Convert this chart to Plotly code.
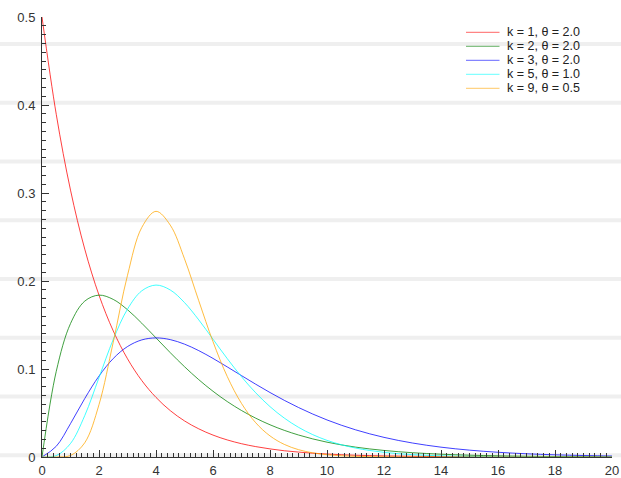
import plotly.graph_objects as go

# x positions (step 0.5 from 0 to 20)
x_vals = [i * 0.5 for i in range(41)]

# k = 1, theta = 2.0
s_k1 = [0.5, 0.3894, 0.3033, 0.2362, 0.1839, 0.1433, 0.1116, 0.0869, 0.0677, 0.0527,
        0.0410, 0.0320, 0.0249, 0.0194, 0.0151, 0.0118, 0.0092, 0.0071, 0.0056, 0.0043,
        0.0034, 0.0026, 0.0020, 0.0016, 0.0012, 0.0010, 0.0008, 0.0006, 0.0005, 0.0004,
        0.0003, 0.0002, 0.0002, 0.0001, 0.0001, 0.0001, 0.0001, 0.0000, 0.0000, 0.0000, 0.0000]
# k = 2, theta = 2.0
s_k2 = [0.0, 0.09735, 0.15163, 0.17714, 0.18394, 0.17907, 0.16735, 0.15205, 0.13534, 0.11857,
        0.10261, 0.08790, 0.07468, 0.06301, 0.05284, 0.04410, 0.03663, 0.03031, 0.02500, 0.02055,
        0.01684, 0.01378, 0.01124, 0.00915, 0.00744, 0.00603, 0.00488, 0.00395, 0.00319, 0.00257,
        0.00207, 0.00167, 0.00134, 0.00108, 0.00086, 0.00069, 0.00055, 0.00044, 0.00036, 0.00028, 0.00023]
# k = 3, theta = 2.0
s_k3 = [0.0, 0.01217, 0.03791, 0.06643, 0.09197, 0.11192, 0.12551, 0.13305, 0.13534, 0.13340,
        0.12826, 0.12086, 0.11202, 0.10239, 0.09248, 0.08268, 0.07326, 0.06441, 0.05624, 0.04880,
        0.04211, 0.03616, 0.03091, 0.02631, 0.02231, 0.01885, 0.01588, 0.01334, 0.01117, 0.00933,
        0.00778, 0.00647, 0.00536, 0.00444, 0.00367, 0.00302, 0.00249, 0.00206, 0.00169, 0.00139, 0.00114]
# k = 5, theta = 1.0
s_k5 = [0.0, 0.00158, 0.01533, 0.04707, 0.09022, 0.13360, 0.16803, 0.18881, 0.19537, 0.18981,
        0.17547, 0.15583, 0.13387, 0.11179, 0.09123, 0.07292, 0.05725, 0.04425, 0.03374, 0.02540,
        0.01892, 0.01395, 0.01019, 0.00738, 0.00531, 0.00379, 0.00269, 0.00190, 0.00133, 0.00093,
        0.00065, 0.00045, 0.00031, 0.00021, 0.00014, 0.00010, 0.00007, 0.00005, 0.00003, 0.00002, 0.00001]
# k = 9, theta = 0.5
s_k9 = [0.0, 0.00002, 0.00172, 0.01620, 0.05954, 0.13056, 0.20652, 0.26076, 0.27917, 0.26351,
        0.22520, 0.17759, 0.13105, 0.09146, 0.06087, 0.03889, 0.02398, 0.01433, 0.00833, 0.00472,
        0.00262, 0.00142, 0.00076, 0.00040, 0.00021, 0.00011, 0.00005, 0.00003, 0.00001, 0.00001,
        0.0, 0.0, 0.0, 0.0, 0.0, 0.0, 0.0, 0.0, 0.0, 0.0, 0.0]

series_names = ["k = 1, θ = 2.0", "k = 2, θ = 2.0", "k = 3, θ = 2.0", "k = 5, θ = 1.0", "k = 9, θ = 0.5"]
series_values = [s_k1, s_k2, s_k3, s_k5, s_k9]
series_colors = ["#ff0000", "#008000", "#0000ff", "#00ffff", "#ffa500"]

x_ticks = list(range(0, 21, 2))
y_ticks = [0, 0.1, 0.2, 0.3, 0.4, 0.5]

W, H = 621, 478
ML, MR, MT, MB = 42, 9, 17, 21
PW, PH = W - ML - MR, H - MT - MB

def px_x(p):
    return (p - ML) / PW

def px_y(p):
    return (H - MB - p) / PH

fig = go.Figure()
for name, vals, col in zip(series_names, series_values, series_colors):
    fig.add_trace(go.Scatter(x=x_vals, y=vals, mode="lines", name=name,
                             line=dict(color=col, width=1, shape="spline"),
                             opacity=0.75, showlegend=False, hoverinfo="skip"))

shapes = []
# background horizontal bands
for k in range(8):
    yp = px_y(455.3 - 58.76 * k)
    shapes.append(dict(type="line", xref="paper", yref="paper", x0=px_x(0), x1=px_x(W),
                       y0=yp, y1=yp, line=dict(color="#efefef", width=4), layer="below"))

annotations = []
for i, (name, col) in enumerate(zip(series_names, series_colors)):
    yp = px_y(32.3 + 14 * i)
    shapes.append(dict(type="line", xref="paper", yref="paper", x0=px_x(466), x1=px_x(499.5),
                       y0=yp, y1=yp, line=dict(color=col, width=1), opacity=0.6))
    annotations.append(dict(text=name, xref="paper", yref="paper", x=px_x(505), y=yp,
                            xanchor="left", yanchor="middle", showarrow=False,
                            font=dict(size=12.5, color="#222")))

axis_common = dict(showgrid=False, zeroline=False, showline=True, linecolor="#333",
                   linewidth=1, ticks="inside", ticklen=7, tickcolor="#333", tickwidth=1,
                   tickfont=dict(size=13, color="#333"), automargin=False)
fig.update_layout(
    width=W, height=H, margin=dict(l=ML, r=MR, t=MT, b=MB, autoexpand=False),
    paper_bgcolor="white", plot_bgcolor="rgba(0,0,0,0)",
    font=dict(family="Liberation Sans, Arial, sans-serif"),
    shapes=shapes, annotations=annotations,
    xaxis=dict(range=[0, 20], tickvals=x_ticks, ticktext=[str(v) for v in x_ticks],
               minor=dict(dtick=0.2, ticks="inside", ticklen=4, tickcolor="#333"),
               ticklabelstandoff=1, **axis_common),
    yaxis=dict(range=[0, 0.5], tickvals=y_ticks, ticktext=["0", "0.1", "0.2", "0.3", "0.4", "0.5"],
               minor=dict(dtick=0.01, ticks="inside", ticklen=4, tickcolor="#333"),
               ticklabelstandoff=3, **axis_common),
)
fig.write_html("out.html", config={"displayModeBar": False, "staticPlot": True},
               post_script="document.body.style.margin='0';document.body.style.padding='0';"
                           "document.body.style.overflow='hidden';")
